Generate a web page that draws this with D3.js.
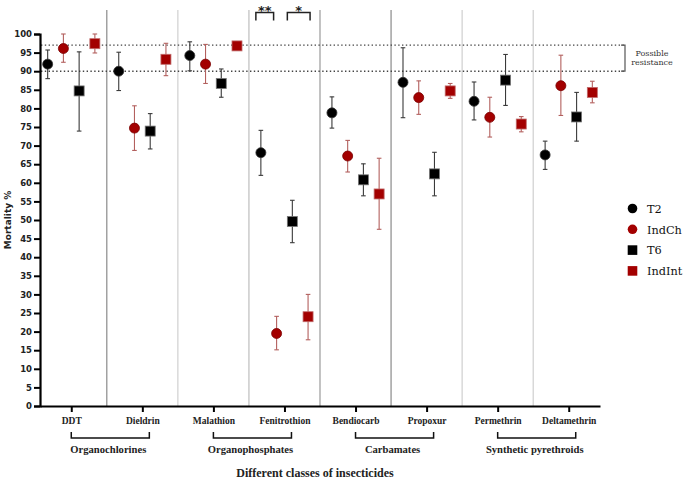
<!DOCTYPE html>
<html><head><meta charset="utf-8">
<script src="https://cdn.jsdelivr.net/npm/d3@7"></script>
<style>body{margin:0;background:#fff}svg{display:block}</style>
</head><body>
<script>
const categories = ["DDT","Dieldrin","Malathion","Fenitrothion","Bendiocarb","Propoxur","Permethrin","Deltamethrin"];
const groupNames = ["Organochlorines","Organophosphates","Carbamates","Synthetic pyrethroids"];
const groupStart = ["DDT","Malathion","Bendiocarb","Permethrin"];
const groupEnd = ["Dieldrin","Fenitrothion","Propoxur","Deltamethrin"];
const seriesNames = ["T2","IndCh","T6","IndInt"];
const seriesShapes = ["circle","circle","square","square"];
const seriesColors = ["#000000","#a30000","#000000","#a30000"];
const t2Mean = [91.9, 90.0, 94.2, 68.1, 78.8, 87.0, 81.9, 67.5];
const t2Hi   = [95.7, 95.1, 97.9, 74.1, 83.1, 96.3, 87.1, 71.2];
const t2Lo   = [88.0, 84.8, 90.1, 62.0, 74.7, 77.5, 76.9, 63.6];
const indChMean = [96.1, 74.7, 91.9, 19.5, 67.2, 82.9, 77.6, 86.1];
const indChHi   = [100, 80.7, 97.2, 24.1, 71.4, 87.4, 83.0, 94.3];
const indChLo   = [92.4, 68.7, 86.7, 15.1, 62.9, 78.4, 72.3, 78.1];
const t6Mean = [84.7, 73.9, 86.7, 49.6, 60.8, 62.4, 87.6, 77.7];
const t6Hi   = [95.2, 78.6, 90.6, 55.3, 65.1, 68.2, 94.5, 84.3];
const t6Lo   = [73.9, 69.1, 83.0, 43.9, 56.5, 56.5, 80.8, 71.2];
const indIntMean = [97.4, 93.2, 96.8, 24.0, 57.0, 84.7, 75.8, 84.3];
const indIntHi   = [100, 97.5, 97.3, 30.0, 66.6, 86.7, 77.8, 87.3];
const indIntLo   = [94.9, 88.8, 96.3, 17.8, 47.5, 82.7, 73.7, 81.5];
const yTicks = d3.range(0, 101, 5);
const resistanceBand = [90, 97];
const sigLabels = ["**","*"];
const sigFrom = [0, 2];
const sigTo = [1, 3];
const separatorShades = ["#8a8a8a","#cfcfcf","#bdbdbd","#9a9a9a","#8a8a8a","#cfcfcf","#cfcfcf"];

const means = [t2Mean, indChMean, t6Mean, indIntMean];
const his = [t2Hi, indChHi, t6Hi, indIntHi];
const los = [t2Lo, indChLo, t6Lo, indIntLo];

const W = 685, H = 480;
const svg = d3.select("body").append("svg").attr("width", W).attr("height", H);
const serif = "'Liberation Serif','DejaVu Serif',serif";
const wideSerif = "'DejaVu Serif','Liberation Serif',serif";
const sans = "'DejaVu Sans','Liberation Sans',sans-serif";

const x = d3.scalePoint().domain(categories).range([40, 600]).padding(0.44);
const y = d3.scaleLinear().domain([0, 100]).range([406, 34]);
const sub = d3.scalePoint().domain(seriesNames).range([-23.6, 23.6]);
const step = x.step();

// separators
const seps = categories.slice(0, -1).map((c, i) => ({x: x(c) + step / 2, c: separatorShades[i]}));
svg.selectAll("line.sep").data(seps).join("line")
  .attr("x1", d => d.x).attr("x2", d => d.x).attr("y1", 10).attr("y2", 406)
  .attr("stroke", d => d.c).attr("stroke-width", 1.2);

// resistance dotted lines
const xEnd = 625;
resistanceBand.forEach(v => {
  svg.append("line").attr("x1", 41).attr("x2", xEnd).attr("y1", y(v)).attr("y2", y(v))
    .attr("stroke", "#444").attr("stroke-width", 1.4).attr("stroke-dasharray", "1.4,2.4");
});
svg.append("path")
  .attr("d", `M${xEnd - 4},${y(resistanceBand[1])}H${xEnd}V${y(resistanceBand[0])}H${xEnd - 4}`)
  .attr("fill", "none").attr("stroke", "#555").attr("stroke-width", 1.2);
svg.append("text").attr("x", 652).attr("y", 55.5).attr("text-anchor", "middle")
  .attr("font-family", wideSerif).attr("font-size", 8).attr("fill", "#333").text("Possible");
svg.append("text").attr("x", 652).attr("y", 65).attr("text-anchor", "middle")
  .attr("font-family", wideSerif).attr("font-size", 8).attr("fill", "#333").text("resistance");

// y axis
const yAxis = svg.append("g").attr("transform", "translate(40,0)")
  .call(d3.axisLeft(y).tickValues(yTicks).tickSize(6).tickPadding(2));
yAxis.select(".domain").attr("stroke", "#000").attr("stroke-width", 2.2);
yAxis.selectAll(".tick line").attr("stroke", "#000").attr("stroke-width", 2);
yAxis.selectAll(".tick text").attr("font-family", sans).attr("font-weight", "bold")
  .attr("font-size", 8.5).attr("fill", "#222");

// x axis
const xAxis = svg.append("g").attr("transform", "translate(0,406)")
  .call(d3.axisBottom(x).tickSize(6).tickSizeOuter(0).tickPadding(5));
xAxis.select(".domain").attr("stroke", "#000").attr("stroke-width", 2.2);
xAxis.selectAll(".tick line").attr("stroke", "#000").attr("stroke-width", 2);
xAxis.selectAll(".tick text").attr("font-family", serif).attr("font-weight", "bold")
  .attr("font-size", 9.5).attr("fill", "#222");

// group brackets
groupNames.forEach((g, i) => {
  const x0 = x(groupStart[i]), x1 = x(groupEnd[i]) + 7;
  svg.append("path").attr("d", `M${x0},432V438H${x1}V432`).attr("fill", "none")
    .attr("stroke", "#111").attr("stroke-width", 1.5);
  svg.append("text").attr("x", (x0 + x1) / 2 - 2).attr("y", 453).attr("text-anchor", "middle")
    .attr("font-family", serif).attr("font-weight", "bold").attr("font-size", 10.6)
    .attr("fill", "#222").text(g);
});

// axis titles
svg.append("text").attr("transform", "translate(11,220) rotate(-90)").attr("text-anchor", "middle")
  .attr("font-family", sans).attr("font-weight", "bold").attr("font-size", 9).attr("fill", "#222")
  .text("Mortality %");
svg.append("text").attr("x", 315).attr("y", 477).attr("text-anchor", "middle")
  .attr("font-family", serif).attr("font-weight", "bold").attr("font-size", 12).attr("fill", "#222")
  .text("Different classes of insecticides");

// significance brackets
const sigPad = [[-5, -3], [-5, 2]];
sigLabels.forEach((s, i) => {
  const xa = x(categories[3]) + sub(seriesNames[sigFrom[i]]) + sigPad[i][0];
  const xb = x(categories[3]) + sub(seriesNames[sigTo[i]]) + sigPad[i][1];
  svg.append("path").attr("d", `M${xa},20.5V12.5H${xb}V20.5`).attr("fill", "none")
    .attr("stroke", "#222").attr("stroke-width", 1.5);
  svg.append("text").attr("x", (xa + xb) / 2).attr("y", 15).attr("text-anchor", "middle")
    .attr("font-family", sans).attr("font-weight", "bold").attr("font-size", 13).attr("fill", "#222").text(s);
});

// points & error bars
seriesNames.forEach((s, si) => {
  const data = categories.map((c, i) => ({c, m: means[si][i], hi: his[si][i], lo: los[si][i]}));
  const g = svg.append("g");
  const red = seriesColors[si] !== "#000000";
  const ebColor = red ? "#b3605e" : "#3a3a3a";
  const px = d => x(d.c) + sub(s);
  g.selectAll("line.v").data(data).join("line")
    .attr("x1", px).attr("x2", px).attr("y1", d => y(d.hi)).attr("y2", d => y(d.lo))
    .attr("stroke", ebColor).attr("stroke-width", 1.1);
  ["hi","lo"].forEach(k => {
    g.selectAll("line." + k).data(data).join("line")
      .attr("x1", d => px(d) - 2.3).attr("x2", d => px(d) + 2.3)
      .attr("y1", d => y(d[k])).attr("y2", d => y(d[k]))
      .attr("stroke", ebColor).attr("stroke-width", 1.1);
  });
  if (seriesShapes[si] === "circle") {
    g.selectAll("circle").data(data).join("circle")
      .attr("cx", px).attr("cy", d => y(d.m)).attr("r", 5)
      .attr("fill", seriesColors[si]).attr("stroke", red ? "#7a0000" : "#333").attr("stroke-width", 0.8);
  } else {
    g.selectAll("rect").data(data).join("rect")
      .attr("x", d => px(d) - 5).attr("y", d => y(d.m) - 5).attr("width", 10).attr("height", 10)
      .attr("fill", seriesColors[si]).attr("stroke", red ? "#c06a6a" : "#777").attr("stroke-width", 0.8);
  }
});

// legend
const leg = svg.append("g");
seriesNames.forEach((s, i) => {
  const ly = 208.5 + i * 20.8;
  if (seriesShapes[i] === "circle") {
    leg.append("circle").attr("cx", 632.5).attr("cy", ly).attr("r", 4.8).attr("fill", seriesColors[i]);
  } else {
    leg.append("rect").attr("x", 627.7).attr("y", ly - 4.8).attr("width", 9.6).attr("height", 9.6).attr("fill", seriesColors[i]);
  }
  leg.append("text").attr("x", 647).attr("y", ly + 4.3).attr("font-family", wideSerif)
    .attr("font-size", 11.3).attr("fill", "#111").text(s);
});
</script>
</body></html>
